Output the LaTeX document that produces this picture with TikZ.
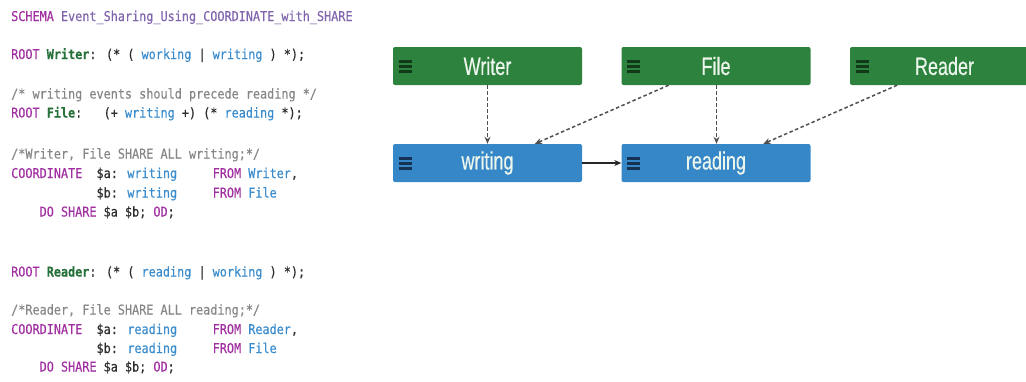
\documentclass[tikz,border=0pt]{standalone}
\usepackage{fontspec}
\usetikzlibrary{arrows.meta,calc}
\newfontfamily\codefont[FakeStretch=0.875,FakeBold=0.3]{DejaVu Sans Mono}
\newfontfamily\labelfont[FakeStretch=0.72,FakeBold=0.4]{Liberation Sans}

\definecolor{kwc}{RGB}{160,48,160}
\definecolor{schemac}{RGB}{128,100,172}
\definecolor{rootc}{RGB}{38,112,58}
\definecolor{evc}{RGB}{58,140,204}
\definecolor{cmc}{RGB}{135,135,135}
\definecolor{txtc}{RGB}{45,45,45}
\definecolor{boxgreen}{RGB}{45,130,62}
\definecolor{boxblue}{RGB}{54,135,200}
\definecolor{icongreen}{RGB}{16,58,26}
\definecolor{iconblue}{RGB}{22,50,82}
\definecolor{labelc}{RGB}{236,246,236}
\definecolor{linkc}{RGB}{80,80,80}

% syntax colouring for the schema listing
\newcommand\kw[1]{\textcolor{kwc}{#1}}
\newcommand\sname[1]{\textcolor{schemac}{#1}}
\newcommand\rootname[1]{\textcolor{rootc}{\bfseries #1}}
\newcommand\ev[1]{\textcolor{evc}{#1}}
\newcommand\cm[1]{\textcolor{cmc}{#1}}

\tikzset{
  codeline/.style={anchor=base west, inner sep=0pt, text=txtc,
    font=\codefont\fontsize{13.5}{15}\selectfont},
  eventbox/.style={minimum width=189pt, minimum height=38pt, inner sep=0pt,
    rounded corners=2pt, text=labelc,
    font=\labelfont\fontsize{25}{28}\selectfont},
  rootbox/.style={eventbox, fill=boxgreen},
  evbox/.style={eventbox, fill=boxblue},
  shared/.style={draw=linkc, line width=1.5pt, dash pattern=on 3.5pt off 2.5pt,
    -{Stealth[length=7pt,width=6pt]}},
  order/.style={draw=black!85, line width=1.5pt,
    -{Stealth[length=7pt,width=6pt]}},
}

\begin{document}
\begin{tikzpicture}[x=1pt,y=-1pt]
\useasboundingbox (0,0) rectangle (1026,381);
\clip (0,0) rectangle (1026,381);

% ---- schema listing ----
\node[codeline] (c1)  at (11,21)    {\kw{SCHEMA} \sname{Event\_Sharing\_Using\_COORDINATE\_with\_SHARE}};
\node[codeline] (c2)  at (11,59)    {\kw{ROOT} \rootname{Writer}: (* ( \ev{working} | \ev{writing} ) *);};
\node[codeline] (c3)  at (11,98.5)  {\cm{/* writing events should precede reading */}};
\node[codeline] (c4)  at (11,117.5) {\kw{ROOT} \rootname{File}:~~~(+ \ev{writing} +) (* \ev{reading} *);};
\node[codeline] (c5)  at (11,158.5) {\cm{/*Writer, File SHARE ALL writing;*/}};
\node[codeline] (c6)  at (11,178)   {\kw{COORDINATE}~~\$a: \ev{writing}~~~~~\kw{FROM} \ev{Writer},};
\node[codeline] (c7)  at (11,197.5) {~~~~~~~~~~~~\$b: \ev{writing}~~~~~\kw{FROM} \ev{File}};
\node[codeline] (c8)  at (11,216.5) {~~~~\kw{DO SHARE} \$a \$b; \kw{OD};};
\node[codeline] (c9)  at (11,276.5) {\kw{ROOT} \rootname{Reader}: (* ( \ev{reading} | \ev{working} ) *);};
\node[codeline] (c10) at (11,314.5) {\cm{/*Reader, File SHARE ALL reading;*/}};
\node[codeline] (c11) at (11,334)   {\kw{COORDINATE}~~\$a: \ev{reading}~~~~~\kw{FROM} \ev{Reader},};
\node[codeline] (c12) at (11,353)   {~~~~~~~~~~~~\$b: \ev{reading}~~~~~\kw{FROM} \ev{File}};
\node[codeline] (c13) at (11,371.5) {~~~~\kw{DO SHARE} \$a \$b; \kw{OD};};

% ---- event graph ----
\node[rootbox] (Writer)  at (487.5,66)  {Writer};
\node[rootbox] (File)    at (716,66)    {File};
\node[rootbox] (Reader)  at (944.5,66)  {Reader};
\node[evbox]   (writing) at (487.5,163) {writing};
\node[evbox]   (reading) at (716,163)   {reading};

% menu handles on the boxes
\foreach \n/\c in {Writer/icongreen,File/icongreen,Reader/icongreen,writing/iconblue,reading/iconblue}
  \foreach \dy in {-5,0,5}
    \draw[line width=3pt,\c] ([xshift=6pt,yshift=\dy pt]\n.west) -- ++(13pt,0);

% shared events
\draw[shared] (Writer.south) -- (writing.north);
\draw[shared] ($(File.south west)!0.25!(File.south east)$) -- ($(writing.north west)!0.75!(writing.north east)$);
\draw[shared] ([xshift=0.5pt]File.south) -- ([xshift=0.5pt]reading.north);
\draw[shared] ($(Reader.south west)!0.25!(Reader.south east)$) -- ($(reading.north west)!0.75!(reading.north east)$);

% precedence
\draw[order] (writing.east) -- (reading.west);
\end{tikzpicture}
\end{document}
